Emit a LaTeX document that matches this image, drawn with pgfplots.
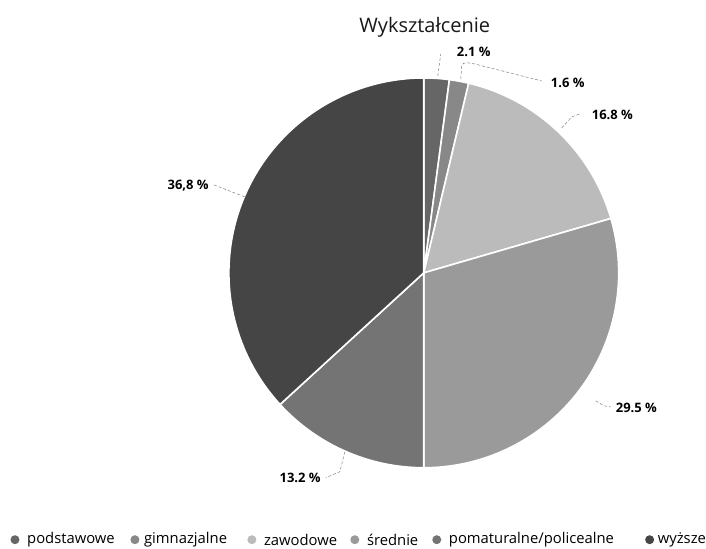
\documentclass[border=0pt]{standalone}
\usepackage{pgfplots}
\usepackage{pgfplotstable}
\usepackage{fontspec}
\setmainfont{Open Sans}
\pgfplotsset{compat=1.18}
\definecolor{c0}{HTML}{666666}
\definecolor{c1}{HTML}{888888}
\definecolor{c2}{HTML}{BBBBBB}
\definecolor{c3}{HTML}{9A9A9A}
\definecolor{c4}{HTML}{747474}
\definecolor{c5}{HTML}{454545}
% slice values (percent), clockwise from 12 o'clock
\pgfplotstableread{
idx name val
0 podstawowe 2.1
1 gimnazjalne 1.6
2 zawodowe 16.8
3 średnie 29.5
4 pomaturalne/policealne 13.2
5 wyższe 36.8
}\datatable
\begin{document}
\begin{tikzpicture}
\begin{axis}[
  hide axis, scale only axis,
  width=706pt, height=549pt,
  xmin=0, xmax=706, ymin=-549, ymax=0,
  clip=false,
]
\path (axis cs:0,-549) rectangle (axis cs:706,0);
\gdef\cum{90}
\pgfplotsinvokeforeach{0,...,5}{
  \pgfplotstablegetelem{#1}{val}\of\datatable
  \pgfmathsetmacro\aa{\cum}
  \pgfmathsetmacro\bb{\cum-3.6*\pgfplotsretval}
  \xdef\cum{\bb}
  \edef\temp{\noexpand\fill[fill=c#1, draw=white, line width=1.6pt, line join=round]
    (axis cs:424,-273) -- ++(\aa:195pt) arc[start angle=\aa, end angle=\bb, radius=195pt] -- cycle;}
  \temp
}
% title
\node[font=\fontsize{20}{24}\selectfont, text=black!90] at (axis cs:425,-27) {Wykształcenie};
% leader lines
\begin{scope}[densely dashed, gray, line width=0.5pt]
\draw (axis cs:438,-76) -- (axis cs:441,-54);
\draw (axis cs:461,-79) -- (axis cs:462,-66) to[out=80,in=170] (axis cs:475,-64) -- (axis cs:542,-81);
\draw (axis cs:562,-128) -- (axis cs:572,-117) -- (axis cs:580,-114);
\draw (axis cs:596,-401) -- (axis cs:604,-406) -- (axis cs:611,-407);
\draw (axis cs:345,-452) -- (axis cs:340,-472) -- (axis cs:326,-478);
\draw (axis cs:214,-185) -- (axis cs:245,-197);
\end{scope}
% data labels
\begin{scope}[font=\fontsize{13}{15}\selectfont\bfseries, text=black]
\node[anchor=west, inner sep=1pt] at (axis cs:456,-52) {2.1 \%};
\node[anchor=west, inner sep=1pt] at (axis cs:550,-83) {1.6 \%};
\node[anchor=west, inner sep=1pt] at (axis cs:591,-115) {16.8 \%};
\node[anchor=west, inner sep=1pt] at (axis cs:615,-408) {29.5 \%};
\node[anchor=east, inner sep=1pt] at (axis cs:322,-478) {13.2 \%};
\node[anchor=east, inner sep=1pt] at (axis cs:210,-186) {36,8 \%};
\end{scope}
% legend
\begin{scope}[font=\fontsize{14.8}{17}\selectfont, text=black]
\fill[c0] (axis cs:15,-540) circle[radius=4.5pt];
\node[anchor=west, inner sep=0pt] at (axis cs:27,-540) {podstawowe};
\fill[c1] (axis cs:135,-540) circle[radius=4.5pt];
\node[anchor=west, inner sep=0pt] at (axis cs:144,-540) {gimnazjalne};
\fill[c2] (axis cs:252,-540) circle[radius=4.5pt];
\node[anchor=west, inner sep=0pt] at (axis cs:264,-540) {zawodowe};
\fill[c3] (axis cs:355,-540) circle[radius=4.5pt];
\node[anchor=west, inner sep=0pt] at (axis cs:367,-540) {średnie};
\fill[c4] (axis cs:437,-540) circle[radius=4.5pt];
\node[anchor=west, inner sep=0pt] at (axis cs:449,-540) {pomaturalne/policealne};
\fill[c5] (axis cs:650,-540) circle[radius=4.5pt];
\node[anchor=west, inner sep=0pt] at (axis cs:658,-540) {wyższe};
\end{scope}
\end{axis}
\end{tikzpicture}
\end{document}
